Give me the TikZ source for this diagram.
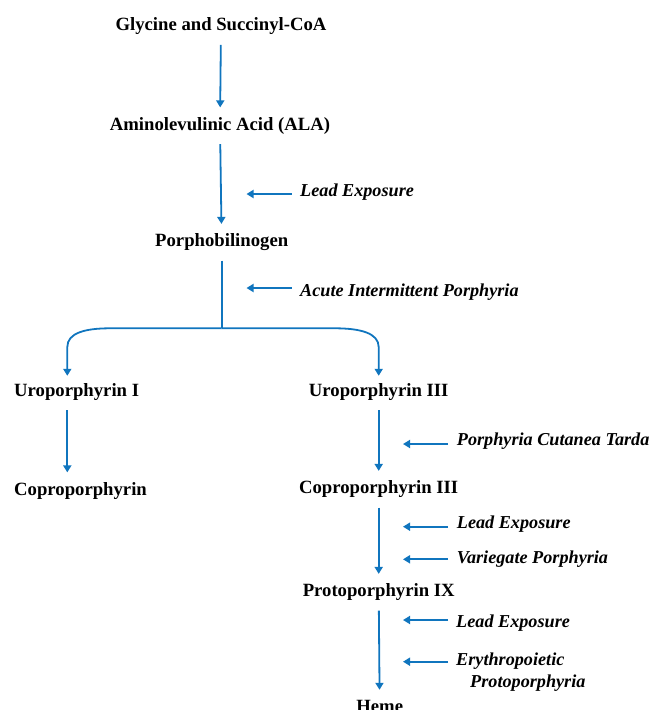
\documentclass[tikz,border=0pt]{standalone}
\usepackage{fontspec}
\setmainfont{Liberation Serif}
\usepackage{tikz}
\usetikzlibrary{arrows.meta}
\definecolor{pathblue}{RGB}{16,117,190}

\tikzset{
    stage/.style={font=\fontsize{18.7}{22.3}\selectfont\bfseries, inner sep=0pt,
                  text height=12.4pt, text depth=4pt, anchor=base},
    cause/.style={font=\fontsize{18.2}{22.3}\selectfont\bfseries\itshape, inner sep=0pt,
                  anchor=base west, align=left},
    flow/.style={draw=pathblue, line width=1.8pt, -{Triangle[width=8pt,length=7pt]},
                 shorten <=10pt, shorten >=10pt},
    hint/.style={draw=pathblue, line width=1.8pt, -{Triangle[width=8pt,length=7pt]}}
}

\begin{document}
\begin{tikzpicture}[x=1pt,y=-1pt]
\useasboundingbox (0,0) rectangle (653,710);

\begin{scope}[every node/.style={stage}]
    \node (G) at (221,30.7) {Glycine and Succinyl-CoA};
    \node (ALA) at (220,130) {Aminolevulinic Acid (ALA)};
    \node (P) at (221.7,246.5) {Porphobilinogen};
    \node (UI)[anchor=base west] at (14,396) {Uroporphyrin I};
    \node (UIII) at (378.7,396) {Uroporphyrin III};
    \node (CP)[anchor=base west] at (14,495) {Coproporphyrin};
    \node (CPIII) at (378.7,493.5) {Coproporphyrin III};
    \node (PPIX) at (378.7,596.5) {Protoporphyrin IX};
    \node (H) at (379.7,712.4) {Heme};
\end{scope}

\begin{scope}[every node/.style={cause}]
    \node (lead1) at (300,196.7) {Lead Exposure};
    \node (aip) at (300,296) {Acute Intermittent Porphyria};
    \node (pct) at (456.7,445.4) {Porphyria Cutanea Tarda};
    \node (lead2) at (456.7,528) {Lead Exposure};
    \node (vp) at (456.7,563.5) {Variegate Porphyria};
    \node (lead3) at (456,627.5) {Lead Exposure};
    \node (epp) at (456,687.3) {Erythropoietic\\\hspace*{14pt}Protoporphyria};
\end{scope}

% main pathway
\coordinate (fork) at (221.7,328.3);
\coordinate (lcol) at (67.3,0);
\draw[flow] (G) -- (ALA);
\draw[flow] (ALA) -- (P);
\draw[draw=pathblue, line width=1.8pt, shorten <=10pt] (P) -- (fork);
\draw[flow, shorten <=0pt, shorten >=7.6pt] (fork) -- (110,328.3)
    .. controls (85,328.3) and (67.3,333) .. (67.3,347) -- (UI.north -| lcol);
\draw[flow, shorten <=0pt, shorten >=7.6pt] (fork) -- (335,328.3)
    .. controls (360,328.3) and (378.7,333) .. (378.7,347) -- (UIII.north);
\draw[flow] (UI.south -| lcol) -- (CP.north -| lcol);
\draw[flow] (UIII) -- (CPIII);
\draw[flow] (CPIII) -- (PPIX);
\draw[flow] (PPIX) -- (H);

% disorders and inhibitors
\coordinate (t1) at (291.7,194);   \coordinate (h1) at (246.5,194);
\coordinate (t2) at (291.7,288);   \coordinate (h2) at (246.5,288);
\coordinate (t3) at (448,444);     \coordinate (h3) at (403,444);
\coordinate (t4) at (448,526.7);   \coordinate (h4) at (403,526.7);
\coordinate (t5) at (448,559.3);   \coordinate (h5) at (403,559.3);
\coordinate (t6) at (448,620);     \coordinate (h6) at (403,620);
\coordinate (t7) at (448,661.7);   \coordinate (h7) at (403,661.7);
\draw[hint] (t1) -- (h1);
\draw[hint] (t2) -- (h2);
\draw[hint] (t3) -- (h3);
\draw[hint] (t4) -- (h4);
\draw[hint] (t5) -- (h5);
\draw[hint] (t6) -- (h6);
\draw[hint] (t7) -- (h7);
\end{tikzpicture}
\end{document}
